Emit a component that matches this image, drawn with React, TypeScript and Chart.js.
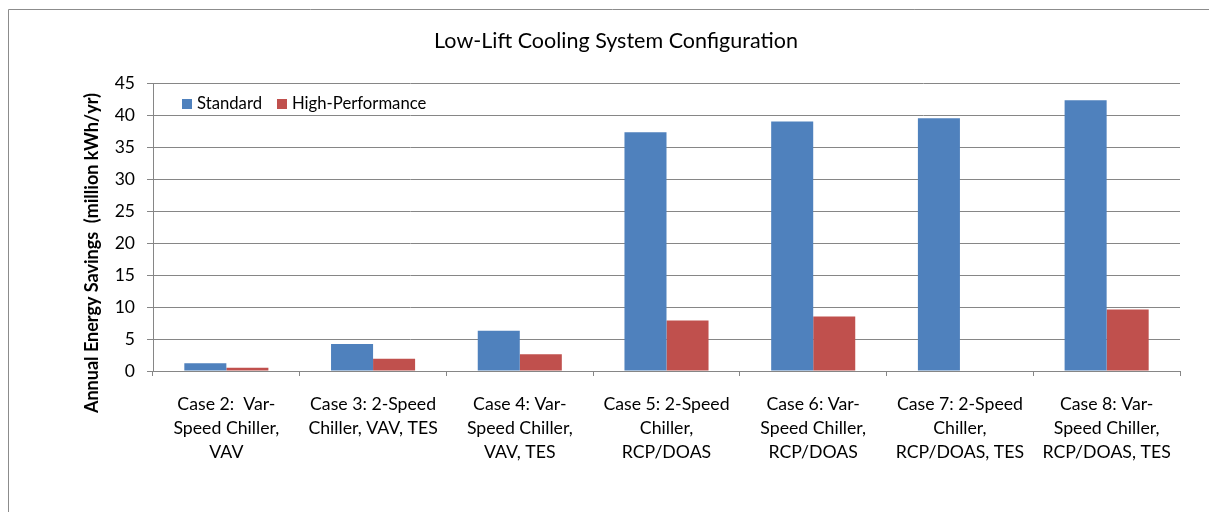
import React, { useEffect, useRef } from "react";
import { Chart, registerables } from "chart.js";

Chart.register(...registerables);

const chartTitle = "Low-Lift Cooling System Configuration";
const yAxisTitle = "Annual Energy Savings  (million kWh/yr)";
const categories: string[][] = [
  ["Case 2:  Var-", "Speed Chiller,", "VAV"],
  ["Case 3: 2-Speed", "Chiller, VAV, TES"],
  ["Case 4: Var-", "Speed Chiller,", "VAV, TES"],
  ["Case 5: 2-Speed", "Chiller,", "RCP/DOAS"],
  ["Case 6: Var-", "Speed Chiller,", "RCP/DOAS"],
  ["Case 7: 2-Speed", "Chiller,", "RCP/DOAS, TES"],
  ["Case 8: Var-", "Speed Chiller,", "RCP/DOAS, TES"],
];
const standardValues = [1.2, 4.2, 6.3, 37.3, 39.0, 39.5, 42.3];
const highPerfValues: (number | null)[] = [0.5, 1.9, 2.6, 7.9, 8.5, null, 9.6];
const seriesNames = ["Standard", "High-Performance"];
const seriesColors = ["#4F81BD", "#C0504D"];

const FONT = "Lato, 'Open Sans', sans-serif";

const textPlugin = {
  id: "textPlugin",
  beforeDraw(chart: any) {
    const ctx = chart.ctx;
    ctx.save();
    ctx.strokeStyle = "#8c8c8c";
    ctx.lineWidth = 1;
    ctx.beginPath();
    ctx.moveTo(0.5, chart.height);
    ctx.lineTo(0.5, 1.5);
    ctx.lineTo(chart.width, 1.5);
    ctx.stroke();
    ctx.restore();
  },
  afterDraw(chart: any) {
    const ctx = chart.ctx;
    const ca = chart.chartArea;
    ctx.save();
    // Title
    ctx.fillStyle = "#000";
    ctx.font = `21.5px ${FONT}`;
    ctx.textAlign = "center";
    ctx.textBaseline = "middle";
    ctx.fillText(chartTitle, 608, 33);
    // Y axis title
    ctx.save();
    ctx.translate(84, 245);
    ctx.rotate(-Math.PI / 2);
    ctx.font = `bold 18px ${FONT}`;
    ctx.fillText(yAxisTitle, 0, 0);
    ctx.restore();
    // Legend
    ctx.font = `16.7px ${FONT}`;
    ctx.textAlign = "left";
    let x = ca.left + 29;
    const y = ca.top + 21;
    chart.data.datasets.forEach((ds: any) => {
      ctx.fillStyle = ds.backgroundColor;
      ctx.fillRect(x, y - 5, 10, 10);
      ctx.fillStyle = "#000";
      ctx.fillText(ds.label, x + 15, y);
      x += 15 + ctx.measureText(ds.label).width + 15;
    });
    ctx.restore();
  },
};

export default function App() {
  const ref = useRef<HTMLCanvasElement>(null);
  useEffect(() => {
    document.documentElement.style.overflow = "hidden";
    if (!ref.current) return;
    const chart = new Chart(ref.current, {
      type: "bar",
      data: {
        labels: categories as any,
        datasets: [
          {
            label: seriesNames[0],
            data: standardValues,
            backgroundColor: seriesColors[0],
            borderWidth: 0,
          },
          {
            label: seriesNames[1],
            data: highPerfValues,
            backgroundColor: seriesColors[1],
            borderWidth: 0,
          },
        ],
      },
      options: {
        animation: false,
        responsive: false,
        maintainAspectRatio: false,
        layout: { padding: { top: 75, right: 37, left: 0, bottom: 0 } },
        datasets: { bar: { categoryPercentage: 0.573, barPercentage: 1 } },
        plugins: {
          legend: { display: false },
          title: { display: false },
          tooltip: { enabled: false },
        },
        scales: {
          x: {
            afterFit: (s: any) => {
              s.height = 141;
            },
            grid: {
              offset: true,
              drawOnChartArea: false,
              drawTicks: true,
              tickLength: 5,
              color: "#868686",
            },
            border: { color: "#868686", width: 1 },
            ticks: {
              color: "#000",
              padding: 16,
              maxRotation: 0,
              autoSkip: false,
              font: { family: FONT, size: 17.7, lineHeight: 24 / 17.7 },
            },
          },
          y: {
            min: 0,
            max: 45,
            afterFit: (s: any) => {
              s.width = 145;
            },
            grid: { color: "#868686", tickLength: 6 },
            border: { color: "#868686", width: 1 },
            ticks: {
              stepSize: 5,
              color: "#000",
              padding: 12,
              font: { family: FONT, size: 17.5 },
            },
          },
        },
      },
      plugins: [textPlugin],
    });
    return () => chart.destroy();
  }, []);
  return (
    <div style={{ width: 1209, height: 504 }}>
      <canvas ref={ref} width={1209} height={504} style={{ display: "block" }} />
    </div>
  );
}
